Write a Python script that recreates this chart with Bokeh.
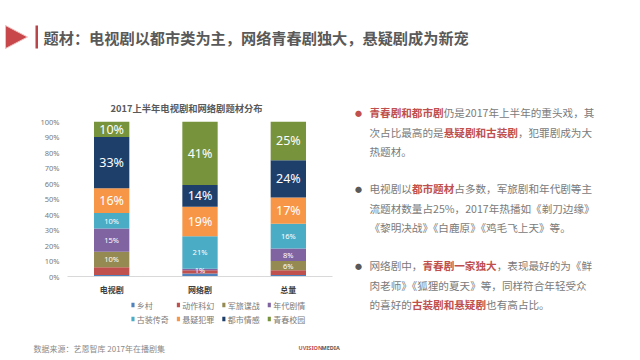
from bokeh.plotting import figure
from bokeh.layouts import column, row
from bokeh.models import (ColumnDataSource, FactorRange, Range1d, FixedTicker,
                          NumeralTickFormatter)
from bokeh.core.properties import value
from bokeh.embed import file_html
from bokeh.resources import INLINE

# ---------------- data ----------------
categories = ["电视剧", "网络剧", "总量"]
series_names = ["乡村", "动作科幻", "军旅谍战", "年代剧情", "古装传奇", "悬疑犯罪", "都市情感", "青春校园"]
xiangcun = [1, 2, 1]
dongzuo_kehuan = [5, 2, 3]
junlv_diezhan = [10, 0, 6]
niandai_juqing = [15, 1, 8]
guzhuang_chuanqi = [10, 21, 16]
xuanyi_fanzui = [16, 19, 17]
dushi_qinggan = [33, 14, 24]
qingchun_xiaoyuan = [10, 41, 25]
y_ticks = [0, 10, 20, 30, 40, 50, 60, 70, 80, 90, 100]

series_values = [xiangcun, dongzuo_kehuan, junlv_diezhan, niandai_juqing,
                 guzhuang_chuanqi, xuanyi_fanzui, dushi_qinggan, qingchun_xiaoyuan]
colors = ["#4F81BD", "#C0504D", "#958B52", "#8064A2", "#4BACC6", "#F79646", "#1F3F6B", "#77933C"]

CJK = "Noto Sans CJK SC"
RED = "#C0504D"
GRAY = "#7A7A7A"
DARK = "#595959"


def canvas(w, h):
    f = figure(width=w, height=h, x_range=Range1d(0, w), y_range=Range1d(h, 0),
               output_backend="svg", toolbar_location=None,
               x_axis_type=None, y_axis_type=None, min_border=0)
    f.outline_line_color = None
    f.grid.grid_line_color = None
    f.background_fill_color = "white"
    f.border_fill_color = "white"
    return f


def add_text(f, x, y, text, size, color, bold=False, align="left", font=CJK):
    f.text(x=[x], y=[y], text=[text], text_font_size=size, text_color=color,
           text_font_style="bold" if bold else "normal", text_align=align,
           text_baseline="middle", text_font=value(font))


# ---------------- header ----------------
header = canvas(632, 75)
header.patch(x=[5, 5, 27], y=[25, 48, 36.5], fill_color="#C8474A", line_color="#F0C0C0", line_width=1)
header.quad(left=[35], right=[37.5], top=[25], bottom=[48], fill_color="#B84547", line_color=None)
add_text(header, 43, 36, "题材：电视剧以都市类为主，网络青春剧独大，悬疑剧成为新宠", "15.2px", DARK, bold=True)

# ---------------- chart ----------------
p = figure(x_range=FactorRange(*categories), y_range=Range1d(0, 1),
           width=340, height=222, output_backend="svg", toolbar_location=None,
           min_border_left=67, min_border_right=8, min_border_top=46, min_border_bottom=21,
           title="2017上半年电视剧和网络剧题材分布")
p.background_fill_color = "white"
p.border_fill_color = "white"
p.outline_line_color = None
p.grid.grid_line_color = None
p.title.align = "left"
p.title.offset = 43
p.title.standoff = 13
p.title.text_font = CJK
p.title.text_font_size = "9.3px"
p.title.text_color = DARK

keys = ["s%d" % i for i in range(len(series_names))]
data = {"cat": categories}
for k, vals in zip(keys, series_values):
    data[k] = [v / 100 for v in vals]
src = ColumnDataSource(data)
p.vbar_stack(keys, x="cat", width=0.4, source=src, color=colors, line_color=None)

big = {"x": [], "y": [], "t": []}
small = {"x": [], "y": [], "t": []}
for j, cat in enumerate(categories):
    bottom = 0
    for i, vals in enumerate(series_values):
        v = vals[j]
        if i >= 2 and v > 0:
            d = big if i >= 5 else small
            d["x"].append(cat)
            d["y"].append((bottom + v / 2) / 100)
            d["t"].append("%d%%" % v)
        bottom += v
p.text(x="x", y="y", text="t", source=ColumnDataSource(big), text_align="center",
       text_baseline="middle", text_color="white", text_font=value("Noto Sans"),
       text_font_size="12.5px")
p.text(x="x", y="y", text="t", source=ColumnDataSource(small), text_align="center",
       text_baseline="middle", text_color="white", text_font=value("Noto Sans"),
       text_font_size="7.5px")

p.yaxis.ticker = FixedTicker(ticks=[t / 100 for t in y_ticks])
p.yaxis.formatter = NumeralTickFormatter(format="0%")
p.yaxis.axis_line_color = None
p.yaxis.major_tick_line_color = None
p.yaxis.minor_tick_line_color = None
p.yaxis.major_tick_out = 0
p.yaxis.major_label_standoff = 8
p.yaxis.major_label_text_font = "Noto Sans"
p.yaxis.major_label_text_font_size = "7.5px"
p.yaxis.major_label_text_color = GRAY

p.xaxis.axis_line_color = "#D9D9D9"
p.xaxis.major_tick_line_color = None
p.xaxis.major_tick_out = 0
p.xaxis.major_label_standoff = 7
p.xaxis.major_label_text_font = CJK
p.xaxis.major_label_text_font_style = "bold"
p.xaxis.major_label_text_font_size = "8px"
p.xaxis.major_label_text_color = "#404040"

# ---------------- legend (2 rows x 4 columns) ----------------
leg = canvas(340, 35)
ncol = 4
pitch = 58.3
lx = [82 + (i % ncol) * pitch for i in range(len(series_names))]
ly = [7.5 + (i // ncol) * 14 for i in range(len(series_names))]
leg.rect(x=[v + 2 for v in lx], y=ly, width=4, height=4.5, color=colors, line_color=None)
leg.text(x=[v + 7 for v in lx], y=ly, text=series_names, text_font_size="8px",
         text_color=GRAY, text_baseline="middle", text_align="left", text_font=value(CJK))

# ---------------- right text ----------------
txt = canvas(292, 257)
FS = 10.6
paragraphs = [
    [[("青春剧和都市剧", True), ("仍是2017年上半年的重头戏，其", False)],
     [("次占比最高的是", False), ("悬疑剧和古装剧", True), ("，犯罪剧成为大", False)],
     [("热题材。", False)]],
    [[("电视剧以", False), ("都市题材", True), ("占多数，军旅剧和年代剧等主", False)],
     [("流题材数量占25%，2017年热播如《剃刀边缘》", False)],
     [("《黎明决战》《白鹿原》《鸡毛飞上天》等。", False)]],
    [[("网络剧中，", False), ("青春剧一家独大", True), ("，表现最好的为《鲜", False)],
     [("肉老师》《狐狸的夏天》等，同样符合年轻受众", False)],
     [("的喜好的", False), ("古装剧和悬疑剧", True), ("也有高占比。", False)]],
]
para_top = [37, 113, 190]
line_gap = 19.5
bullet_colors = [RED, DARK, DARK]


def text_width(s):
    w = 0
    for ch in s:
        if ch.isdigit():
            w += 0.55
        elif ch == "%":
            w += 0.88
        elif ord(ch) < 128:
            w += 0.5
        else:
            w += 1.0
    return w * FS


for pi, para in enumerate(paragraphs):
    add_text(txt, 18, para_top[pi], "●", "7px", bullet_colors[pi], align="center")
    for li, line in enumerate(para):
        x = 29
        y = para_top[pi] + li * line_gap
        for seg, red in line:
            add_text(txt, x, y, seg, "%.1fpx" % FS, RED if red else GRAY, bold=red)
            x += text_width(seg)

# ---------------- footer ----------------
footer = canvas(632, 26)
add_text(footer, 33, 16, "数据来源：艺恩智库 2017年在播剧集", "8px", "#8A8A8A")
add_text(footer, 298, 15.5, "UVISION", "5.5px", RED, bold=True, font="Noto Sans")
add_text(footer, 321, 15.5, "MEDIA", "5.5px", DARK, bold=True, font="Noto Sans")

layout = column(header, row(column(p, leg), txt), footer)
open("out.html", "w").write(file_html(layout, INLINE))
